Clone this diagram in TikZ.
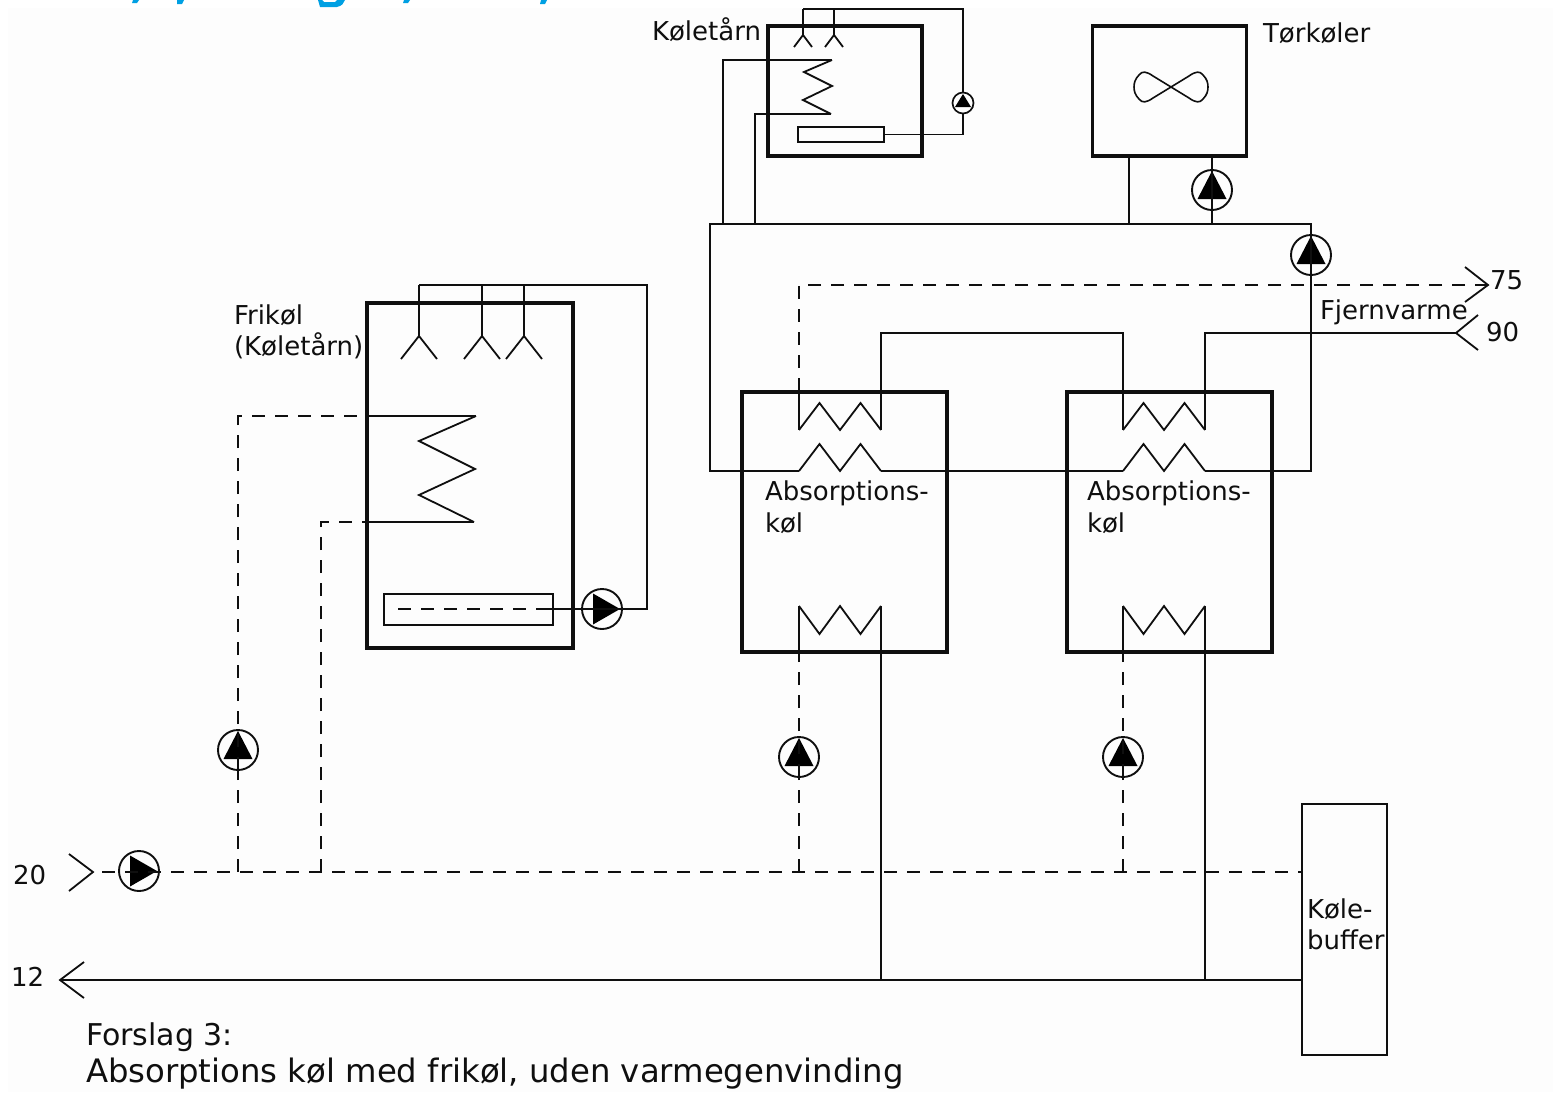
\documentclass[tikz,border=0pt]{standalone}
\usepackage{fontspec}
\setmainfont{DejaVu Sans}
\usetikzlibrary{calc}
\definecolor{mypaper}{RGB}{253,253,253}
\definecolor{myblue}{RGB}{0,160,227}
\definecolor{myline}{RGB}{15,15,15}
\tikzset{
  plant/.style={rectangle, draw=myline, line width=3.6pt, inner sep=0pt, outer sep=0pt},
  insert/.style={rectangle, draw=myline, line width=1.8pt, inner sep=0pt, outer sep=0pt},
  pipe/.style={draw=myline, line width=1.8pt, line join=miter},
  coldpipe/.style={pipe, dash pattern=on 13pt off 10pt},
  pump/.style={circle, draw=myline, line width=1.9pt, inner sep=0pt, outer sep=0pt,
    minimum size=2*#1 pt},
  pumpup/.style={pump=#1, path picture={
    \fill[black, shift={(path picture bounding box.center)}, scale=#1/20]
      (0,-19) -- (14.5,9) -- (-14.5,9) -- cycle;}},
  pumpright/.style={pump=#1, path picture={
    \fill[black, shift={(path picture bounding box.center)}, scale=#1/20]
      (18,0) -- (-9,15.5) -- (-9,-15.5) -- cycle;}},
  pumpsmall/.style={pump=10.5, line width=1.7pt, path picture={
    \fill[black, shift={(path picture bounding box.center)}]
      (0,-9) -- (8,4) -- (-8,4) -- cycle;}},
  tag/.style={font=\fontsize{26}{30}\selectfont, text=myline, anchor=west, inner sep=0pt, outer sep=0pt, align=left},
  caption/.style={font=\fontsize{#1}{38}\selectfont, text=myline, anchor=west, inner sep=0pt, outer sep=0pt}
}
\begin{document}
\begin{tikzpicture}[x=1pt, y=-1pt]
  \useasboundingbox (0,0) rectangle (1560,1092);
  \fill[mypaper] (8,8) rectangle (1553,1092);

  % Heading cut off by the top edge
  \fill[myblue] (133,0) -- (139,0) -- (137,3) -- (132,3) -- cycle;
  \fill[myblue] (177,0) -- (184,0) -- (182,4) -- (177,4) -- cycle;
  \fill[myblue] (318,0) -- (320,7) -- (337,7) .. controls (342,6) and (344,3) .. (345,0) -- (337,0) -- (335,2) -- (324,2) -- (322,0) -- cycle;
  \fill[myblue] (404,0) -- (410,0) -- (408,3) -- (403,3) -- cycle;
  \fill[myblue] (541,0) -- (547,0) -- (545,4) -- (540,4) -- cycle;

  % Plant boxes
  \node[plant, minimum width=154pt, minimum height=130pt] (tower) at (845,91) {};
  \node[plant, minimum width=154pt, minimum height=130pt] (dry) at (1169.5,91) {};
  \node[plant, minimum width=206pt, minimum height=345pt] (free) at (470,475.5) {};
  \node[plant, minimum width=205pt, minimum height=260pt] (absa) at (844.5,522) {};
  \node[plant, minimum width=205pt, minimum height=260pt] (absb) at (1169.5,522) {};
  \node[insert, minimum width=85pt, minimum height=251pt] (buffer) at (1344.5,929.5) {};
  \node[insert, minimum width=86pt, minimum height=15pt] (towerfill) at (841,134.5) {};
  \node[insert, minimum width=169pt, minimum height=31pt] (freefill) at (468.5,609.5) {};

  % Pumps
  \node[pumpsmall] (pumptower) at (963,103) {};
  \node[pumpup=20] (pumpdry) at (1212,190) {};
  \node[pumpup=20] (pumpcool) at (1311,255) {};
  \node[pumpright=20] (pumpfree) at (602,609) {};
  \node[pumpup=20] (pumpfreecold) at (238,750) {};
  \node[pumpup=20] (pumpa) at (799,757) {};
  \node[pumpup=20] (pumpb) at (1123,757) {};
  \node[pumpright=20] (pumpmain) at (139,871) {};

  % Absorption units, generator, condenser and evaporator coils
  \foreach \n/\s in {a/0,b/324}{
    \begin{scope}[xshift=\s pt]
      \coordinate (gen\n l) at (799,430);
      \coordinate (gen\n r) at (881,430);
      \coordinate (con\n l) at (799,471);
      \coordinate (con\n r) at (881,471);
      \coordinate (eva\n l) at (799,606);
      \coordinate (eva\n r) at (881,606);
      \draw[pipe] (gen\n l) -- (819.5,403) -- (840,430) -- (860.5,403) -- (gen\n r);
      \draw[pipe] (con\n l) -- (819.5,444) -- (840,471) -- (860.5,444) -- (con\n r);
      \draw[pipe] (eva\n l) -- (819.5,634) -- (840,606) -- (860.5,634) -- (eva\n r);
    \end{scope}
  }

  % Køletårn on the roof
  \coordinate (towertop) at (803,9);
  \coordinate (towerin) at (832,60);
  \coordinate (towerout) at (831,114);
  \coordinate (mainwest) at (710,224);
  \coordinate (maineast) at (1311,224);
  \draw[pipe] (towertop) -- (963,9) -- (pumptower.north);
  \draw[pipe] (pumptower.south) -- (963,134.5) -- (towerfill.east);
  \foreach \x in {803,834}{
    \draw[pipe] (\x,9) -- (\x,35);
    \draw[pipe] (\x-9,47) -- (\x,35) -- (\x+9,47);
  }
  \draw[pipe] (towerin) -- (804,72) -- (832,86) -- (803,100) -- (towerout);
  \draw[pipe] (towerin) -| (723,224);
  \draw[pipe] (towerout) -| (755,224);

  % Tørkøler and its fan
  \draw[line width=1.6pt, draw=myline] (1153,76) .. controls (1146,71) and (1142,71) .. (1139,75)
    .. controls (1135,79) and (1134,83) .. (1134,87)
    .. controls (1134,91) and (1135,95) .. (1139,99)
    .. controls (1142,103) and (1146,103) .. (1153,98) -- (1189,76)
    .. controls (1196,71) and (1200,71) .. (1203,75)
    .. controls (1207,79) and (1208,83) .. (1208,87)
    .. controls (1208,91) and (1207,95) .. (1203,99)
    .. controls (1200,103) and (1196,103) .. (1189,98) -- cycle;
  \draw[pipe] (dry.south -| 1129,0) -- (1129,224);
  \draw[pipe] (dry.south -| pumpdry) -- (pumpdry.center) -- (1212,224);

  % Cooling water loop through the condensers
  \draw[pipe] (conal) -| (mainwest) -- (maineast) -- (pumpcool.center) |- (conbr);
  \draw[pipe] (conar) -- (conbl);

  % Fjernvarme
  \coordinate (hotin) at (1456,333);
  \coordinate (hotout) at (1488,285);
  \draw[pipe] (genar) |- (1123,333) -- (genbl);
  \draw[pipe] (genbr) |- (hotin);
  \draw[pipe] (1478,315) -- (hotin) -- (1478,350);
  \draw[pipe] (1465,267) -- (hotout) -- (1465,302);
  \draw[coldpipe] (hotout) -| (799,392);
  \draw[pipe] (799,392) -- (genal);

  % Frikøl
  \coordinate (freetop) at (419,285);
  \coordinate (freein) at (476,416);
  \coordinate (freeout) at (474,522);
  \draw[pipe] (freetop) -- (647,285) |- (pumpfree.center);
  \foreach \x in {419,482,524}{
    \draw[pipe] (\x,285) -- (\x,336);
    \draw[pipe] (\x-18,359) -- (\x,336) -- (\x+18,359);
  }
  \draw[pipe] (freein) -- (419,441) -- (475,469) -- (419,495) -- (freeout);
  \draw[pipe] (freein) -- (free.west |- freein);
  \draw[pipe] (freeout) -- (free.west |- freeout);
  \draw[pipe] (540,609) -- (pumpfree.center);
  \draw[coldpipe] (398,609) -- (540,609);
  \draw[coldpipe] (238,872) -- (pumpfreecold.south);
  \draw[coldpipe] (pumpfreecold.south) -- (238,416) -- (free.west |- freein);
  \draw[coldpipe] (321,872) -- (321,522) -- (free.west |- freeout);

  % Evaporator branches
  \foreach \n in {a,b}{
    \draw[pipe] (eva\n l) -- (eva\n l |- abs\n.south);
    \draw[coldpipe] (eva\n l |- 0,872) -- (pump\n.south);
    \draw[coldpipe] (pump\n.south) -- (eva\n l |- abs\n.south);
    \draw[pipe] (eva\n r) -- (eva\n r |- 0,980);
  }

  % Supply and return
  \coordinate (coldin) at (93,872);
  \coordinate (coldout) at (60,980);
  \draw[pipe] (69,854) -- (coldin) -- (69,891);
  \draw[coldpipe] (102,872) -- (buffer.west |- 0,872);
  \draw[pipe] (buffer.west |- coldout) -- (coldout);
  \draw[pipe] (84,962) -- (coldout) -- (84,998);

  % Labels
  \node[tag] (lbltower) at (652,30) {Køletårn};
  \node[tag] (lbldry) at (1263,33) {Tørkøler};
  \node[tag] (lblfree) at (234,315) {Frikøl};
  \node[tag] (lblfree2) at (234,346) {(Køletårn)};
  \node[tag] (lblheat) at (1320,312) {Fjernvarme};
  \node[tag] (lbl75) at (1490,280) {75};
  \node[tag] (lbl90) at (1486,332) {90};
  \node[tag] (lblabsa) at (765,493) {Absorptions-};
  \node[tag] (lblabsa2) at (765,523) {køl};
  \node[tag] (lblabsb) at (1087,493) {Absorptions-};
  \node[tag] (lblabsb2) at (1087,523) {køl};
  \node[tag] (lblbuf) at (1307,909) {Køle-};
  \node[tag] (lblbuf2) at (1307,940) {buffer};
  \node[tag] (lbl20) at (13,875) {20};
  \node[tag] (lbl12) at (11,977) {12};
  \node[caption=30] (capa) at (86,1037) {Forslag 3:};
  \node[caption=32.3] (capb) at (86,1074) {Absorptions køl med frikøl, uden varmegenvinding};
\end{tikzpicture}
\end{document}
